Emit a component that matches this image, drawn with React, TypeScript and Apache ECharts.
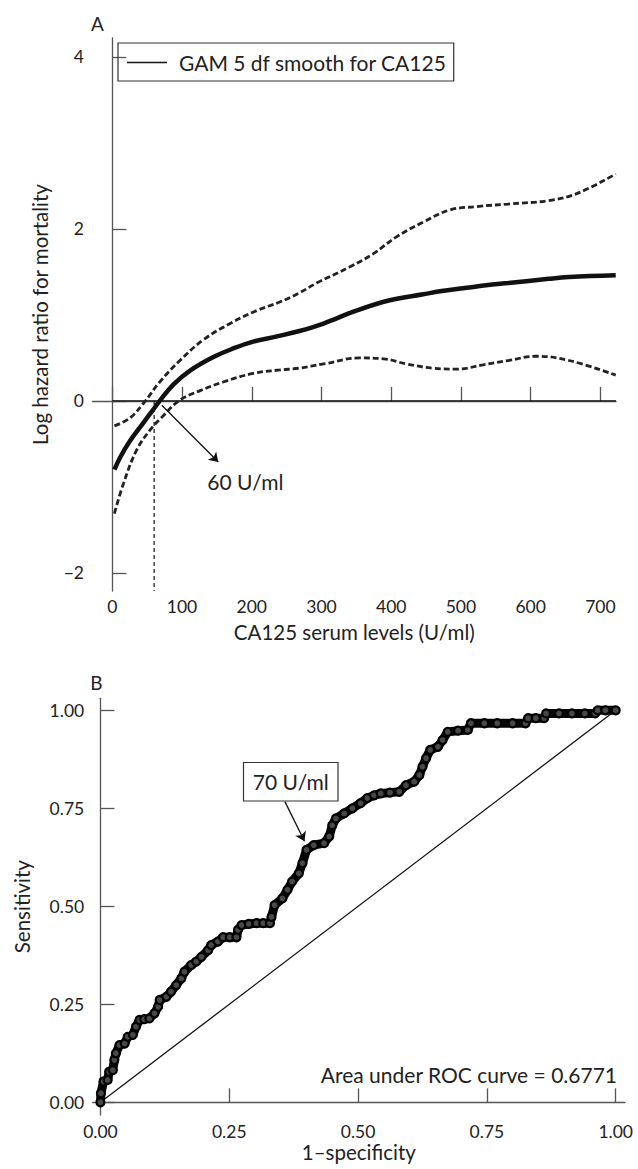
import React, { useEffect, useRef } from "react";
import * as echarts from "echarts";

const FONT = "Lato";

// Panel A: GAM smooth of log hazard ratio vs CA125
const hrXTicks = [0, 100, 200, 300, 400, 500, 600, 700];
const hrYTicks = [-2, 0, 2, 4];
const fitX = [3, 11, 25, 44, 56, 68, 87.5, 111, 145, 173.5, 202, 236, 267, 303, 350, 398, 446, 475, 503, 542, 568, 626, 655, 722];
const fitY = [-0.8, -0.66, -0.47, -0.26, -0.13, 0.0, 0.19, 0.35, 0.51, 0.61, 0.69, 0.75, 0.81, 0.9, 1.05, 1.17, 1.24, 1.28, 1.31, 1.35, 1.37, 1.42, 1.44, 1.46];
const upX = [3, 25, 44.5, 68, 97, 130.5, 169, 207, 240, 267, 293, 341, 374, 408, 446, 484, 523, 568, 626, 666, 722];
const upY = [-0.29, -0.2, -0.03, 0.22, 0.47, 0.71, 0.9, 1.05, 1.15, 1.25, 1.37, 1.56, 1.71, 1.91, 2.08, 2.22, 2.26, 2.29, 2.33, 2.41, 2.64];
const loX = [3, 16, 35, 54, 71, 97, 126, 159, 202, 240, 267, 303, 355, 389, 422, 460, 494, 532, 568, 608, 655, 722];
const loY = [-1.31, -0.96, -0.57, -0.34, -0.19, 0.01, 0.12, 0.22, 0.32, 0.36, 0.38, 0.43, 0.5, 0.49, 0.43, 0.38, 0.37, 0.42, 0.47, 0.52, 0.47, 0.3];
const cutoffA = 60;
const hrArrowFrom = [71, -0.05];
const hrArrowTo = [152, -0.71];
const legendName = "GAM 5 df smooth for CA125";

// Panel B: ROC curve
const rocTicks = [0, 0.25, 0.5, 0.75, 1];
const rocFpr = [0, 0.001, 0.006, 0.014, 0.017, 0.024, 0.027, 0.03, 0.037, 0.047, 0.053, 0.063, 0.069, 0.076, 0.085, 0.095, 0.105, 0.112, 0.115, 0.128, 0.137, 0.147, 0.157, 0.163, 0.176, 0.186, 0.196, 0.209, 0.215, 0.228, 0.238, 0.251, 0.264, 0.267, 0.274, 0.288, 0.303, 0.316, 0.329, 0.332, 0.338, 0.353, 0.363, 0.372, 0.385, 0.392, 0.4, 0.414, 0.434, 0.444, 0.45, 0.457, 0.473, 0.489, 0.505, 0.518, 0.531, 0.544, 0.562, 0.58, 0.593, 0.609, 0.619, 0.625, 0.632, 0.64, 0.655, 0.664, 0.674, 0.694, 0.713, 0.719, 0.745, 0.77, 0.8, 0.825, 0.83, 0.845, 0.861, 0.865, 0.89, 0.915, 0.94, 0.96, 0.965, 0.98, 1.0];
const rocTpr = [0, 0.023, 0.053, 0.057, 0.078, 0.082, 0.108, 0.125, 0.146, 0.15, 0.167, 0.172, 0.193, 0.21, 0.212, 0.214, 0.227, 0.244, 0.261, 0.269, 0.282, 0.299, 0.316, 0.333, 0.35, 0.359, 0.371, 0.388, 0.401, 0.41, 0.421, 0.421, 0.421, 0.44, 0.452, 0.455, 0.457, 0.457, 0.457, 0.473, 0.503, 0.52, 0.542, 0.563, 0.584, 0.61, 0.644, 0.656, 0.661, 0.678, 0.707, 0.724, 0.737, 0.75, 0.763, 0.776, 0.783, 0.788, 0.79, 0.792, 0.809, 0.818, 0.835, 0.856, 0.878, 0.899, 0.907, 0.924, 0.945, 0.948, 0.95, 0.967, 0.967, 0.967, 0.967, 0.967, 0.98, 0.98, 0.98, 0.992, 0.992, 0.992, 0.992, 0.992, 1.0, 1.0, 1.0];
const rocArrowFrom = [0.358, 0.767];
const rocArrowTo = [0.396, 0.666];
const aucText = "Area under ROC curve = 0.6771";
const rocCutLabel = "70 U/ml";
const hrCutLabel = "60 U/ml";

const zip = (xs: number[], ys: number[]) => xs.map((x, i) => [x, ys[i]]);
const minus = (v: number) => (v < 0 ? "\u2212" + Math.abs(v) : String(v));

const AX = "#555";
const axisLine = { show: true, lineStyle: { color: AX, width: 1.3 } };
const axisTick = (vals: number[]) => ({ show: true, inside: true, length: 14, lineStyle: { color: AX, width: 1.3 }, customValues: vals });
const label = { color: "#222", fontSize: 17.5, lineHeight: 14, fontFamily: FONT };
const nameStyle = { color: "#222", fontSize: 20.5, lineHeight: 18, fontFamily: FONT };
const annot = { fontSize: 21, fontFamily: FONT, fill: "#222" };

export default function App() {
  const ref = useRef<HTMLDivElement>(null);
  useEffect(() => {
    const chart = echarts.init(ref.current!, null, { renderer: "svg" });
    const hrXMin = -28.4, hrXMax = 722.4, hrYMin = -2.21;
    const option: any = {
      animation: false,
      backgroundColor: "#fff",
      textStyle: { fontFamily: FONT },
      grid: [
        { left: 92.5, top: 38, width: 523.5, height: 553 },
        { left: 92.7, top: 698.3, width: 532.3, height: 416.7 },
      ],
      legend: {
        data: [legendName],
        left: 118,
        top: 43,
        icon: "rect",
        itemWidth: 40,
        itemHeight: 1.5,
        itemStyle: { color: "#111" },
        padding: [9, 7, 8, 9],
        borderColor: "#333",
        borderWidth: 1.2,
        selectedMode: false,
        textStyle: { fontSize: 21, lineHeight: 20, color: "#222", fontFamily: FONT, padding: [0, 0, 0, 7] },
      },
      xAxis: [
        {
          type: "value", gridIndex: 0, min: hrXMin, max: hrXMax,
          axisLine, axisTick: axisTick(hrXTicks), splitLine: { show: false },
          axisLabel: { ...label, margin: 8.7, customValues: hrXTicks },
          name: "CA125 serum levels (U/ml)", nameLocation: "middle", nameGap: 32, nameTextStyle: nameStyle,
        },
        {
          type: "value", gridIndex: 1, min: -0.015, max: 1.018,
          axisLine, axisTick: axisTick(rocTicks), splitLine: { show: false },
          axisLabel: { ...label, margin: 9.5, customValues: rocTicks, formatter: (v: number) => v.toFixed(2) },
          name: "1\u2013specificity", nameLocation: "middle", nameGap: 22, nameTextStyle: nameStyle,
        },
      ],
      yAxis: [
        {
          type: "value", gridIndex: 0, min: hrYMin, max: 4.22,
          axisLine, axisTick: axisTick(hrYTicks), splitLine: { show: false },
          axisLabel: { ...label, margin: 8.5, customValues: hrYTicks, formatter: minus },
          name: "Log hazard ratio for mortality", nameLocation: "middle", nameGap: 44, nameTextStyle: nameStyle,
        },
        {
          type: "value", gridIndex: 1, min: -0.0324, max: 1.0306,
          axisLine, axisTick: axisTick(rocTicks), splitLine: { show: false },
          axisLabel: { ...label, margin: 8.5, customValues: rocTicks, formatter: (v: number) => v.toFixed(2) },
          name: "Sensitivity", nameLocation: "middle", nameGap: 62, nameTextStyle: nameStyle,
        },
      ],
      series: [
        {
          type: "line", name: "zero", xAxisIndex: 0, yAxisIndex: 0, data: [[0, 0], [hrXMax, 0]],
          symbol: "none", lineStyle: { color: "#111", width: 1.3 }, silent: true,
        },
        {
          type: "line", name: "cutoff", xAxisIndex: 0, yAxisIndex: 0, data: [[cutoffA, 0], [cutoffA, hrYMin]],
          symbol: "none", lineStyle: { color: "#111", width: 1.2, type: [4, 3] }, silent: true,
        },
        {
          type: "line", name: "upper", xAxisIndex: 0, yAxisIndex: 0, data: zip(upX, upY), smooth: 0.4,
          symbol: "none", lineStyle: { color: "#222", width: 2.8, type: [6, 3] },
        },
        {
          type: "line", name: "lower", xAxisIndex: 0, yAxisIndex: 0, data: zip(loX, loY), smooth: 0.4,
          symbol: "none", lineStyle: { color: "#222", width: 2.8, type: [6, 3] },
        },
        {
          type: "line", name: legendName, xAxisIndex: 0, yAxisIndex: 0, data: zip(fitX, fitY), smooth: 0.4,
          symbol: "none", lineStyle: { color: "#111", width: 4.5 }, z: 3,
          markLine: {
            silent: true, symbol: ["none", "arrow"], symbolSize: 9,
            lineStyle: { color: "#111", width: 1.3, type: "solid" }, label: { show: false },
            data: [[{ coord: hrArrowFrom }, { coord: hrArrowTo }]],
          },
        },
        {
          type: "line", name: "diag", xAxisIndex: 1, yAxisIndex: 1, data: [[0, 0], [1, 1]],
          symbol: "none", lineStyle: { color: "#111", width: 1.3 },
        },
        {
          type: "line", name: "roc", xAxisIndex: 1, yAxisIndex: 1, data: zip(rocFpr, rocTpr),
          symbol: "circle", symbolSize: 8, showAllSymbol: true,
          lineStyle: { color: "#050505", width: 9 },
          itemStyle: { color: "#484848", borderColor: "#000", borderWidth: 2.2 },
          markLine: {
            silent: true, symbol: ["none", "arrow"], symbolSize: 9,
            lineStyle: { color: "#111", width: 1.3, type: "solid" }, label: { show: false },
            data: [[{ coord: rocArrowFrom }, { coord: rocArrowTo }]],
          },
        },
      ],
      graphic: [
        { type: "text", x: 97.5, y: 23.5, style: { ...annot, fontSize: 19, text: "A", align: "center", verticalAlign: "middle" } },
        { type: "text", x: 96.5, y: 682.5, style: { ...annot, fontSize: 19, text: "B", align: "center", verticalAlign: "middle" } },
        { type: "text", x: 207.3, y: 481.3, style: { ...annot, text: hrCutLabel, align: "left", verticalAlign: "middle" } },
        { type: "text", x: 617, y: 1074, style: { ...annot, text: aucText, align: "right", verticalAlign: "middle" } },
        {
          type: "rect", x: 243.5, y: 762.5, shape: { width: 94.5, height: 38.5 },
          style: { fill: "#fff", stroke: "#333", lineWidth: 1.2 }, z: 100,
        },
        {
          type: "text", x: 290.8, y: 781.5, z: 101,
          style: { ...annot, text: rocCutLabel, align: "center", verticalAlign: "middle" },
        },
      ],
    };
    chart.setOption(option);
    return () => chart.dispose();
  }, []);
  return <div ref={ref} style={{ position: "absolute", left: 0, top: 0, width: 638, height: 1169, background: "#fff" }} />;
}
